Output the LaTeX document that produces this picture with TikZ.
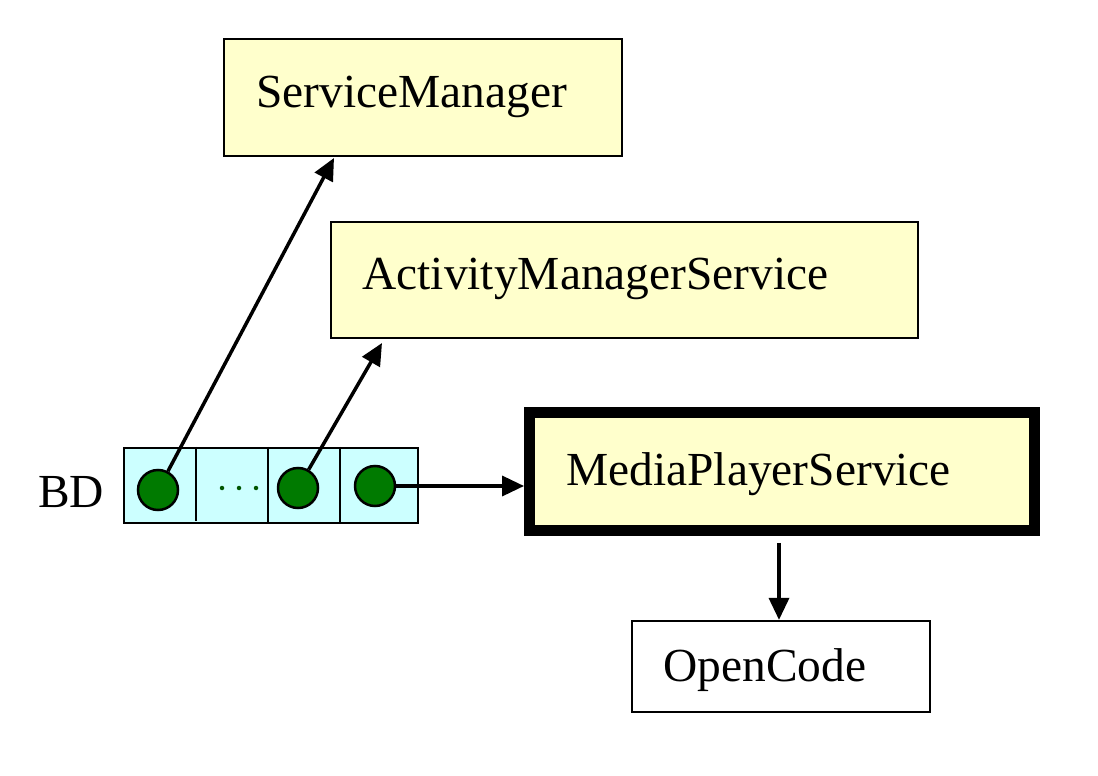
\documentclass[tikz,border=0pt]{standalone}
\usepackage{fontspec}
\setmainfont{Liberation Serif}
\usetikzlibrary{arrows.meta,calc}
\definecolor{boxyellow}{HTML}{FFFFCC}
\definecolor{bdcyan}{HTML}{CCFFFF}
\definecolor{dotgreen}{HTML}{007A00}
\tikzset{
  box/.style={draw=black, line width=0.045cm, fill=boxyellow, rectangle, inner sep=0pt},
  lbl/.style={font=\fontsize{27}{32}\selectfont, inner sep=0pt, anchor=base west},
  dotc/.style={circle, draw=black, line width=0.05cm, fill=dotgreen, minimum size=0.8cm, inner sep=0pt},
  arr/.style={line width=0.07cm, -{Triangle[length=0.44cm,width=0.4cm]}},
}
\begin{document}
\begin{tikzpicture}[x=0.02cm,y=-0.02cm]
\useasboundingbox (0,0) rectangle (1098,776);
% boxes
\node[box, minimum width=7.96cm, minimum height=2.34cm] (sm) at (423,97.5) {};
\node[lbl] (smt) at (256,108) {ServiceManager};
\node[box, minimum width=11.74cm, minimum height=2.32cm] (ams) at (624.5,280) {};
\node[lbl] (amst) at (362,290) {ActivityManagerService};
\node[box, line width=0.22cm, minimum width=10.1cm, minimum height=2.36cm] (mps) at (782,471.5) {};
\node[lbl] (mpst) at (566,485) {MediaPlayerService};
\node[box, fill=white, minimum width=5.96cm, minimum height=1.82cm] (oc) at (781,666.5) {};
\node[lbl] (oct) at (663,681) {OpenCode};
% BD
\node[lbl] (bdt) at (38,507) {BD};
\node[draw=black, line width=0.045cm, fill=bdcyan, minimum width=5.88cm, minimum height=1.5cm, inner sep=0pt] (bd) at (271,485.5) {};
\draw[line width=0.045cm] (196,447) -- (196,521);
\draw[line width=0.045cm] (268,447) -- (268,524);
\draw[line width=0.045cm] (340,447) -- (340,524);
\node[dotc] (c1) at (158,490) {};
\node[dotc] (c2) at (298,488) {};
\node[dotc] (c3) at (375,486) {};
\foreach \x in {222,239,256} \fill[dotgreen!70!black] (\x,488) circle (0.045cm);
% arrows
\coordinate (t1) at (334,158);
\coordinate (t2) at (382,343);
\draw[arr] (c1) -- (t1);
\draw[arr] (c2) -- (t2);
\draw[arr] (c3.east) -- (c3.east -| mps.west);
\draw[arr, shorten <=0.14cm] (mps.south -| 779,0) -- (oc.north -| 779,0);
\end{tikzpicture}
\end{document}
